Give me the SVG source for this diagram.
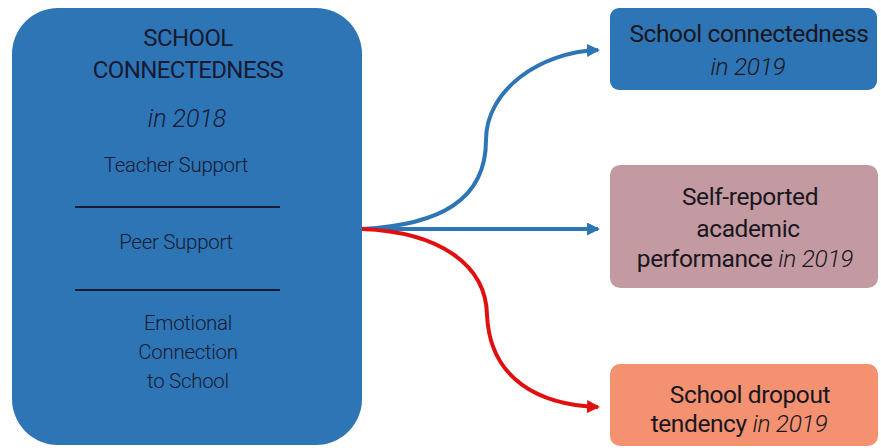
<svg xmlns="http://www.w3.org/2000/svg" width="881" height="448" viewBox="0 0 881 448">
  <defs>
    <marker id="arrowBlue" markerWidth="13" markerHeight="13" refX="11" refY="6.5" orient="auto" markerUnits="userSpaceOnUse">
      <path d="M0,0 L13,6.5 L0,13 Z" fill="#2e75b6"/>
    </marker>
    <marker id="arrowRed" markerWidth="13" markerHeight="13" refX="11" refY="6.5" orient="auto" markerUnits="userSpaceOnUse">
      <path d="M0,0 L13,6.5 L0,13 Z" fill="#e01010"/>
    </marker>
  </defs>
  <style>
    text { font-family: Roboto, "Liberation Sans", sans-serif; fill: #161a33; text-anchor: middle; }
    .title { font-size: 24px; letter-spacing: -0.6px; }
    .year { font-size: 25px; font-style: italic; font-weight: 300; }
    .sub { font-size: 20.5px; font-weight: 300; letter-spacing: -0.3px; }
    .lbl { font-size: 24.5px; letter-spacing: -0.4px; fill: #1a1620; }
    .it { font-style: italic; font-weight: 300; letter-spacing: -0.3px; }
    .conn { fill: none; stroke-width: 4; }
  </style>
  <rect width="881" height="448" fill="#ffffff"/>

  <g id="connectors">
    <path class="conn" d="M362,229 C440,225 486,200 486,140 C486,90 540,52 598,50" stroke="#2e75b6" marker-end="url(#arrowBlue)"/>
    <path class="conn" d="M362,229 L598,229" stroke="#2e75b6" marker-end="url(#arrowBlue)"/>
    <path class="conn" d="M362,229 C440,232 486,265 487,315 C490,380 540,405 598,407" stroke="#e01010" marker-end="url(#arrowRed)"/>
  </g>

  <g id="connectedness-2018">
    <rect x="12" y="8" width="350" height="437" rx="46" fill="#2e75b6"/>
    <text class="title" x="188" y="46">SCHOOL</text>
    <text class="title" x="188" y="78">CONNECTEDNESS</text>
    <text class="year" x="187" y="127">in 2018</text>
    <text class="sub" x="176" y="172">Teacher Support</text>
    <line x1="75" y1="207" x2="280" y2="207" stroke="#161a33" stroke-width="2"/>
    <text class="sub" x="176" y="249">Peer Support</text>
    <line x1="75" y1="290" x2="280" y2="290" stroke="#161a33" stroke-width="2"/>
    <text class="sub" x="188" y="330">Emotional</text>
    <text class="sub" x="188" y="359">Connection</text>
    <text class="sub" x="188" y="388">to School</text>
  </g>

  <g id="connectedness-2019">
    <rect x="610" y="8" width="267" height="82" rx="9" fill="#2e75b6"/>
    <text class="lbl" x="749" y="42">School connectedness</text>
    <text class="lbl it" x="748" y="75">in 2019</text>
  </g>

  <g id="academic-performance">
    <rect x="610" y="165" width="268" height="123" rx="10" fill="#c39aa1"/>
    <text class="lbl" x="750" y="205">Self-reported</text>
    <text class="lbl" x="748" y="237">academic</text>
    <text class="lbl" x="745" y="267">performance <tspan class="it">in 2019</tspan></text>
  </g>

  <g id="dropout-tendency">
    <rect x="610" y="364" width="268" height="82" rx="10" fill="#f39171"/>
    <text class="lbl" x="750" y="403">School dropout</text>
    <text class="lbl" x="739" y="432">tendency <tspan class="it">in 2019</tspan></text>
  </g>
</svg>
